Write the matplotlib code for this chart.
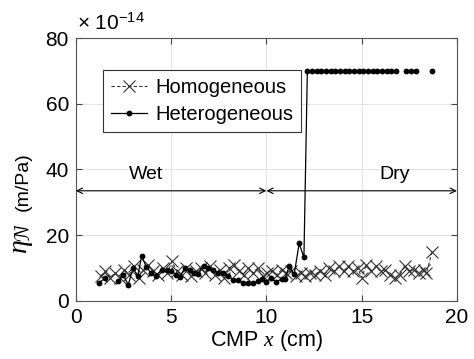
import numpy as np
import matplotlib
matplotlib.use("Agg")
import matplotlib.pyplot as plt

plt.rcParams['font.family'] = ['Liberation Sans', 'DejaVu Sans']
plt.rcParams['mathtext.fontset'] = 'custom'
plt.rcParams['mathtext.rm'] = 'Liberation Sans'
plt.rcParams['mathtext.it'] = 'Liberation Serif:italic'

# values in units of 1e-14 m/Pa
homo_x = [1.3, 1.55, 1.8, 2.05, 2.3, 2.55, 2.8, 3.05, 3.3, 3.55, 3.8, 4.05, 4.3, 4.55,
          4.8, 5.05, 5.3, 5.55, 5.8, 6.05, 6.3, 6.55, 6.8, 7.05, 7.3, 7.55, 7.8, 8.05,
          8.3, 8.55, 8.8, 9.05, 9.3, 9.55, 9.8, 10.05, 10.3, 10.55, 10.8, 11.05, 11.3,
          11.55, 11.8, 12.05, 12.3, 12.55, 12.8, 13.05, 13.3, 13.55, 13.8, 14.05, 14.3,
          14.55, 14.8, 15.0, 15.25, 15.5, 15.75, 16.0, 16.25, 16.5, 16.75, 17.0, 17.25,
          17.5, 17.75, 18.0, 18.25, 18.4, 18.7]
homo_y = [7.5, 9.0, 7.0, 8.5, 7.0, 9.5, 8.0, 10.5, 7.0, 9.5, 11.0, 9.0, 8.0, 10.0,
          8.5, 12.0, 9.0, 8.0, 10.0, 7.5, 9.0, 10.0, 8.5, 10.5, 8.0, 9.5, 7.0, 10.0,
          11.0, 9.0, 8.0, 10.0, 8.5, 10.0, 7.5, 8.5, 9.0, 8.0, 9.5, 8.5, 9.0,
          7.5, 8.5, 7.5, 8.5, 8.0, 9.0, 8.0, 10.0, 9.0, 10.5, 9.0, 10.5,
          9.0, 10.0, 7.0, 11.0, 9.0, 10.5, 9.0, 9.5, 8.0, 7.0, 8.0, 10.5,
          9.0, 9.5, 8.5, 9.5, 8.5, 15.0]

nan = float('nan')
hetero_x = [1.22, 1.52, 1.8, 2.0, 2.22, 2.48, 2.75, 3.0, 3.25, 3.45, 3.7, 3.95, 4.2,
            4.5, 4.76, 5.02, 5.25, 5.46, 5.72, 5.98, 6.2, 6.42, 6.7, 6.95, 7.2, 7.47,
            7.72, 8.0, 8.26, 8.52, 8.78, 9.04, 9.3, 9.57, 9.75, 9.97, 10.25, 10.5,
            10.8, 10.97, 11.2, 11.46, 11.72, 11.97,
            12.15, 12.4, 12.64, 12.89, 13.13, 13.38, 13.62, 13.87, 14.11, 14.36,
            14.6, 14.85, 15.09, 15.34, 15.58, 15.83, 16.07, 16.32, 16.56, 16.8,
            17.05, 17.35, 17.6, 17.85, 18.2, 18.7]
hetero_y = [5.5, 6.9, nan, nan, 5.9, 7.9, 4.9, 9.9, 7.5, 13.5, 10.4, 8.4, 7.6,
            9.4, 9.4, 9.2, 7.9, 7.4, 9.9, 9.4, 8.6, 8.1, 10.6, 9.9, 9.5, 8.4,
            8.4, 7.7, 6.4, 6.2, 5.4, 5.4, 5.4, 5.9, 6.6, 5.7, 7.0, 5.8,
            6.6, 6.7, 10.6, 8.1, 17.5, 13.2,
            70, 70, 70, 70, 70, 70, 70, 70, 70, 70,
            70, 70, 70, 70, 70, 70, 70, 70, 70, 70,
            nan, 70, 70, 70, nan, 70]

x_ticks = [0, 5, 10, 15, 20]
y_ticks = [0, 20, 40, 60, 80]
regions = ["Wet", "Dry"]
region_bounds = [(0, 10), (10, 20)]

fig = plt.figure(figsize=(4.74, 3.59), dpi=100)
ax = fig.add_axes([0.160, 0.162, 0.804, 0.732])

ax.plot(homo_x, homo_y, linestyle=(0, (3, 2)), color='#333333', linewidth=0.8,
        marker='x', markersize=8, markeredgewidth=0.8, markeredgecolor='#333333',
        label='Homogeneous')
ax.plot(hetero_x, hetero_y, linestyle='-', color='black', linewidth=0.9,
        marker='o', markersize=4.2, markeredgewidth=0, label='Heterogeneous')

ax.set_xlim(0, 20)
ax.set_ylim(0, 80)
ax.set_xticks(x_ticks)
ax.set_yticks(y_ticks)
ax.grid(True, color='#e3e3e3', linewidth=0.8)
ax.set_axisbelow(True)
ax.tick_params(direction='in', labelsize=15, length=4, color='#444444',
               top=True, right=True, pad=5)
for s in ax.spines.values():
    s.set_color('#555555')
    s.set_linewidth(0.8)

ax.set_xlabel('CMP $\\mathit{x}$ (cm)', fontsize=15.5, labelpad=1)

# y label: large symbol plus units
fig.text(0.047, 1 - 238 / 359, '$\\eta_{\\mathcal{N}}$', fontsize=20, rotation=90,
         ha='center', va='center')
fig.text(0.050, 1 - 182 / 359, '(m/Pa)', fontsize=14, rotation=90,
         ha='center', va='center')

fig.text(0.163, 0.905, '× 10$^{-14}$', fontsize=15, ha='left', va='bottom')

arrow_y = 33.5
text_y = 38.6
for name, (a, b) in zip(regions, region_bounds):
    ax.annotate('', xy=(a, arrow_y), xytext=(b, arrow_y),
                arrowprops=dict(arrowstyle='<->', color='black', lw=0.8,
                                shrinkA=0, shrinkB=0))
    ax.text((a + b) / 2 - 1.3 if name == "Wet" else (a + b) / 2 + 1.75, text_y, name,
            fontsize=14, ha='center', va='center')

leg = ax.legend(loc='upper left', bbox_to_anchor=(0.07, 0.88), fontsize=14.5,
                frameon=True, fancybox=False, edgecolor='#333333', framealpha=1,
                handlelength=1.8, handletextpad=0.4, borderpad=0.4, labelspacing=0.4,
                borderaxespad=0)
leg.get_frame().set_linewidth(0.8)

fig.savefig('out.png', dpi=100)
